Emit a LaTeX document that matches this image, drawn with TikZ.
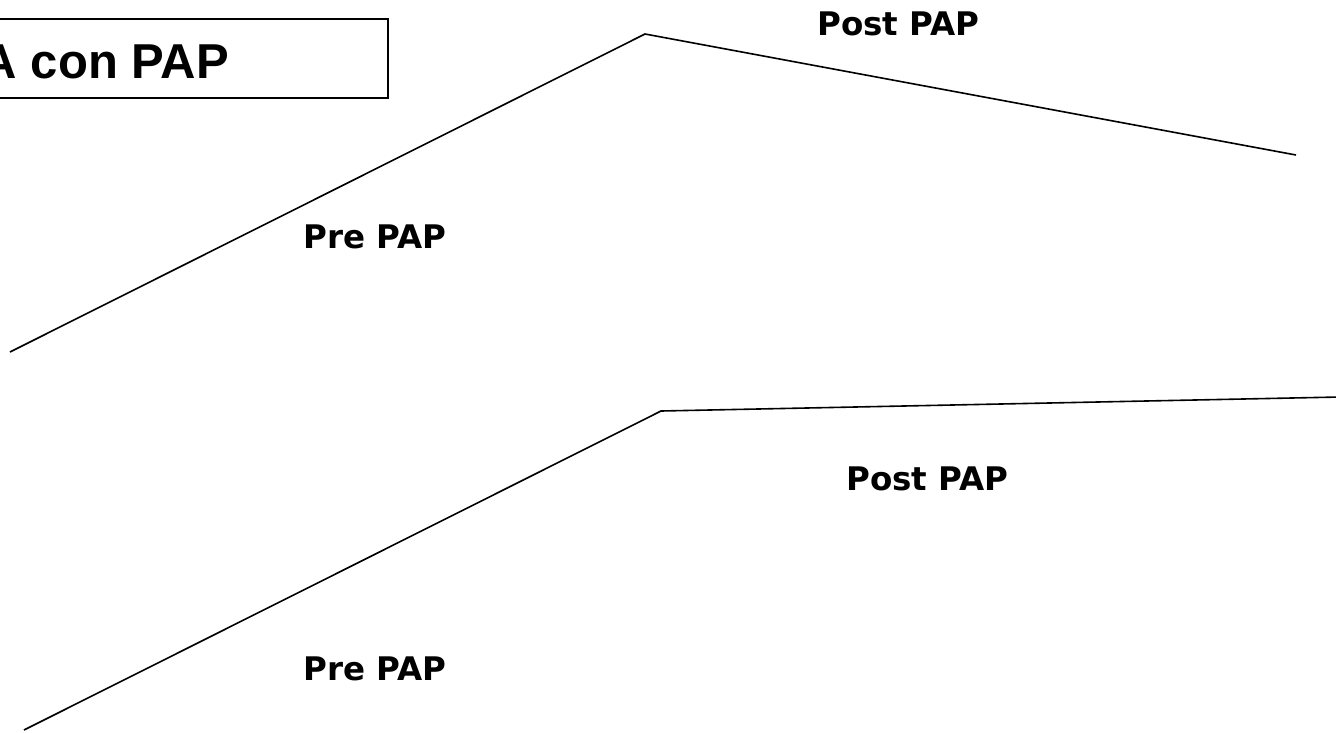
\documentclass[tikz,border=0pt]{standalone}
\usepackage{fontspec}
\setmainfont{Liberation Sans}
\newfontfamily\labelfont{DejaVu Sans}
\begin{document}
\begin{tikzpicture}[x=1pt,y=-1pt,
  curve/.style={line width=1.6pt, line join=miter},
  phase/.style={font=\labelfont\bfseries\fontsize{32.5}{32.5}\selectfont, inner sep=0pt, anchor=base west},
  titlebox/.style={draw, line width=1.3pt}]
  \useasboundingbox (0,0) rectangle (1336,732);
  \clip (0,0) rectangle (1336,732);

  % title box, running off the left edge
  \draw[titlebox] (-20,19) rectangle (388,98);
  \node[font=\bfseries\fontsize{49}{49}\selectfont, inner sep=0pt, anchor=base east] (title) at (229,78) {A con PAP};

  % upper curve: rise then decline
  \coordinate (a0) at (10,352);
  \coordinate (a1) at (645,34);
  \coordinate (a2) at (1296,155);
  \draw[curve] (a0) -- (a1) -- (a2);
  \node[phase] (preA) at (303,248) {Pre PAP};
  \node[phase] (postA) at (817,35) {Post PAP};

  % lower curve: rise then plateau
  \coordinate (b0) at (24,730);
  \coordinate (b1) at (661,411);
  \coordinate (b2) at (1340,397);
  \draw[curve] (b0) -- (b1) -- (b2);
  \node[phase] (preB) at (303,680) {Pre PAP};
  \node[phase] (postB) at (846,490) {Post PAP};
\end{tikzpicture}
\end{document}
